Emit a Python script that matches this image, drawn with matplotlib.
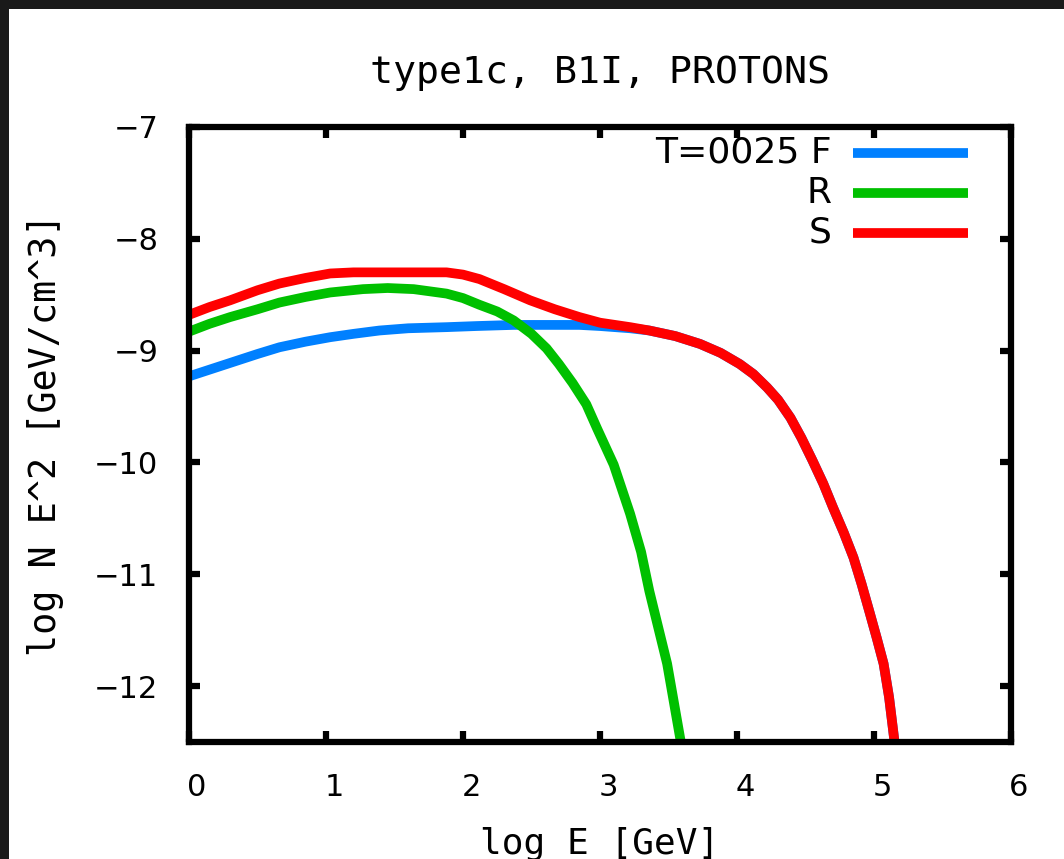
import matplotlib

matplotlib.use("Agg")
import matplotlib.pyplot as plt
import matplotlib.transforms as mtransforms
from matplotlib.lines import Line2D
from matplotlib.patches import Rectangle

# values (log E [GeV], log N E^2)
F_X = [0.0, 0.15, 0.30, 0.50, 0.66, 0.85, 1.03, 1.20, 1.39, 1.60, 1.88, 2.10, 2.37,
       2.60, 2.85, 3.00, 3.22, 3.36, 3.55, 3.73, 3.88, 4.02, 4.12, 4.22, 4.30, 4.39,
       4.47, 4.55, 4.63, 4.70, 4.78, 4.85, 4.91, 4.97, 5.02, 5.07, 5.11, 5.15]
F_Y = [-9.23, -9.17, -9.11, -9.03, -8.97, -8.92, -8.88, -8.85, -8.82, -8.80, -8.79,
       -8.78, -8.77, -8.77, -8.77, -8.78, -8.80, -8.82, -8.87, -8.94, -9.02, -9.12,
       -9.21, -9.33, -9.44, -9.60, -9.78, -9.98, -10.19, -10.40, -10.63, -10.85,
       -11.09, -11.35, -11.57, -11.80, -12.10, -12.50]

R_X = [0.0, 0.15, 0.30, 0.50, 0.66, 0.85, 1.03, 1.27, 1.45, 1.64, 1.88, 2.00, 2.12,
       2.25, 2.37, 2.50, 2.61, 2.70, 2.80, 2.90, 2.98, 3.10, 3.22, 3.30, 3.36, 3.43,
       3.49, 3.54, 3.59]
R_Y = [-8.83, -8.76, -8.70, -8.63, -8.57, -8.52, -8.48, -8.45, -8.44, -8.45, -8.49,
       -8.53, -8.59, -8.65, -8.73, -8.85, -8.98, -9.12, -9.29, -9.48, -9.70, -10.02,
       -10.46, -10.80, -11.15, -11.50, -11.80, -12.15, -12.50]

S_X = [0.0, 0.15, 0.30, 0.50, 0.66, 0.85, 1.03, 1.20, 1.50, 1.88, 2.00, 2.12, 2.30,
       2.49, 2.67, 2.85, 3.00, 3.22, 3.36, 3.55, 3.73, 3.88, 4.02, 4.12, 4.22, 4.30,
       4.39, 4.47, 4.55, 4.63, 4.70, 4.78, 4.85, 4.91, 4.97, 5.02, 5.07, 5.11, 5.15]
S_Y = [-8.68, -8.61, -8.55, -8.46, -8.40, -8.35, -8.31, -8.30, -8.30, -8.30, -8.32,
       -8.36, -8.45, -8.55, -8.63, -8.70, -8.75, -8.79, -8.82, -8.87, -8.94, -9.02,
       -9.12, -9.21, -9.33, -9.44, -9.60, -9.78, -9.98, -10.19, -10.40, -10.63,
       -10.85, -11.09, -11.35, -11.57, -11.80, -12.10, -12.50]

SERIES = [("T=0025 F", F_X, F_Y, "#0080ff"),
          ("R", R_X, R_Y, "#00c000"),
          ("S", S_X, S_Y, "#ff0000")]

X_TICKS = [0, 1, 2, 3, 4, 5, 6]
Y_TICKS = [-12, -11, -10, -9, -8, -7]

W, H = 1064, 859
fig = plt.figure(figsize=(W / 100, H / 100), dpi=100, facecolor="#1a1a1a")
fig.patches.append(Rectangle((9 / W, 0), 1 - 9 / W, 1 - 9 / H, transform=fig.transFigure,
                             facecolor="white", edgecolor="none", zorder=-1))

ax = fig.add_axes([189 / W, (H - 742) / H, (1011 - 189) / W, (742 - 127) / H])
ax.set_xlim(0, 6)
ax.set_ylim(-12.5, -7)

for label, xs, ys, color in SERIES:
    ax.plot(xs, ys, color=color, lw=7, solid_capstyle="butt", solid_joinstyle="round")

# gnuplot style key: right aligned text, sample line to the right
for i, (label, xs, ys, color) in enumerate(SERIES):
    yk = 0.958 - i * 0.065
    ax.text(0.782, yk, label, transform=ax.transAxes, ha="right", va="center",
            fontsize=26, family="DejaVu Sans")
    ax.add_line(Line2D([0.808, 0.948], [yk, yk], transform=ax.transAxes,
                       color=color, lw=7, solid_capstyle="butt"))

for side in ax.spines.values():
    side.set_linewidth(4.5)
ax.set_xticks(X_TICKS)
ax.set_yticks(Y_TICKS)
ax.set_xticklabels([str(v) for v in X_TICKS])
ax.set_yticklabels([f"\u2212{abs(v)}" for v in Y_TICKS])
ax.tick_params(direction="in", length=8, width=4.5, top=True, right=True,
               labelsize=22, pad=22)
shift = mtransforms.ScaledTranslation(8 / 100, 0, fig.dpi_scale_trans)
for t in ax.get_xticklabels():
    t.set_transform(t.get_transform() + shift)

ax.set_title("type1c, B1I, PROTONS", fontsize=27.5, family="DejaVu Sans Mono", pad=32)
ax.set_xlabel("log E [GeV]", fontsize=26, family="DejaVu Sans Mono", labelpad=18)
ax.set_ylabel("log N E^2 [GeV/cm^3]", fontsize=26.5, family="DejaVu Sans Mono", labelpad=22)

fig.savefig("out.png", dpi=100, facecolor=fig.get_facecolor())
